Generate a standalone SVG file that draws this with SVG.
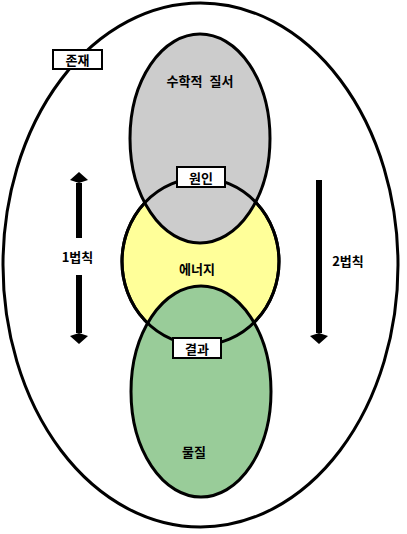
<svg xmlns="http://www.w3.org/2000/svg" width="407" height="534" viewBox="0 0 407 534">
<style>
  .ln { stroke: #000; stroke-width: 3; }
  .lbl { font-family: "Noto Sans CJK KR", "DejaVu Sans", sans-serif; font-size: 13px; font-weight: bold; fill: #000; text-anchor: middle; dominant-baseline: central; }
  .box { fill: #fff; stroke: #000; stroke-width: 2; }
  .arr { stroke: #000; stroke-width: 6; fill: none; }
</style>
<defs>
  <marker id="head" markerUnits="userSpaceOnUse" markerWidth="14" markerHeight="20" viewBox="0 -10 14 20" refX="0" refY="0" orient="auto">
    <path d="M0,0 L3,-9 L11,0 L3,9 Z" fill="#000"/>
  </marker>
</defs>
<rect width="407" height="534" fill="#fff"/>
<g id="existence">
  <ellipse cx="200.5" cy="265" rx="197.5" ry="262" fill="#fff" class="ln"/>
</g>
<g id="energy">
  <ellipse cx="200.5" cy="261.5" rx="78.5" ry="83.5" fill="#FFFF99" class="ln"/>
</g>
<g id="math-order">
  <ellipse cx="200" cy="138.5" rx="70" ry="104.5" fill="#CCCCCC" class="ln"/>
  <text class="lbl" x="200" y="80.5" word-spacing="4">수학적 질서</text>
</g>
<g id="matter">
  <ellipse cx="201" cy="391.5" rx="70" ry="105.5" fill="#99CC99" class="ln"/>
  <text class="lbl" x="194" y="451">물질</text>
</g>
<g id="energy-outline">
  <ellipse cx="200.5" cy="261.5" rx="78.5" ry="83.5" fill="none" class="ln"/>
  <text class="lbl" x="197" y="268">에너지</text>
</g>
<g id="existence-label">
  <rect class="box" x="53" y="50" width="49" height="19"/>
  <text class="lbl" x="77.5" y="59.5">존재</text>
</g>
<g id="cause">
  <rect class="box" x="177" y="167" width="48" height="20"/>
  <text class="lbl" x="201" y="177">원인</text>
</g>
<g id="effect">
  <rect class="box" x="173" y="338" width="48" height="20"/>
  <text class="lbl" x="197" y="348">결과</text>
</g>
<g id="connectors">
  <line class="arr" x1="79" y1="238" x2="79" y2="183" marker-end="url(#head)"/>
  <line class="arr" x1="79" y1="275" x2="79" y2="333" marker-end="url(#head)"/>
  <line class="arr" x1="319" y1="180" x2="319" y2="333" marker-end="url(#head)"/>
  <text class="lbl" x="77.5" y="256">1법칙</text>
  <text class="lbl" x="348" y="260.5">2법칙</text>
</g>
</svg>
